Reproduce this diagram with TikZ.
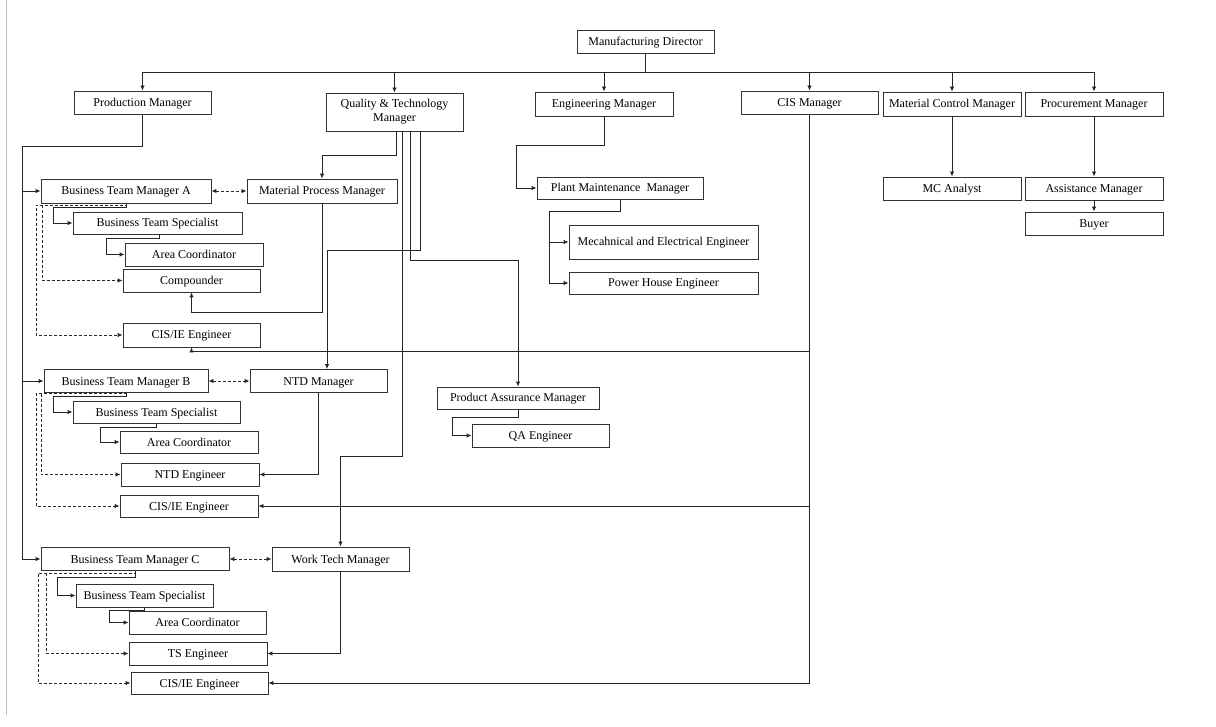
\documentclass[tikz,border=0pt]{standalone}
\usepackage{fontspec}
\setmainfont{Liberation Serif}
\usetikzlibrary{arrows.meta}
\begin{document}
\begin{tikzpicture}[x=1pt,y=-1pt,
  box/.style={draw=black!80, line width=0.9pt, inner sep=0pt, align=center,
    font=\fontsize{12}{14}\selectfont, fill=white, text height=10pt, text depth=2pt},
  box2/.style={draw=black!80, line width=0.9pt, inner sep=0pt, align=center,
    font=\fontsize{12}{14}\selectfont, fill=white},
  con/.style={draw=black!85, line width=0.9pt},
  arr/.style={con, -{Latex[length=5pt,width=4.5pt]}},
  dasharr/.style={con, dash pattern=on 3pt off 2pt, -{Latex[length=5pt,width=4.5pt]}},
  dbl/.style={con, dash pattern=on 3pt off 2pt, {Latex[length=5pt,width=4.5pt]}-{Latex[length=5pt,width=4.5pt]}}]
\useasboundingbox (0,0) rectangle (1216,727);
\draw[black!25, line width=1pt] (6,0) -- (6,715);

% top level
\node[box, minimum width=137pt, minimum height=23pt] (md) at (645.5,41.5) {Manufacturing Director};
\node[box, minimum width=137pt, minimum height=23pt] (pm) at (142.5,102.5) {Production Manager};
\node[box2, minimum width=137pt, minimum height=38pt] (qt) at (394.5,112) {Quality \& Technology\\Manager};
\node[box, minimum width=138pt, minimum height=24pt] (em) at (604,104) {Engineering Manager};
\node[box, minimum width=137pt, minimum height=23pt] (cis) at (809.5,102.5) {CIS Manager};
\node[box, minimum width=138pt, minimum height=24pt] (mcm) at (952,104) {Material Control Manager};
\node[box, minimum width=138pt, minimum height=24pt] (proc) at (1094,104) {Procurement Manager};
\node[box, minimum width=138pt, minimum height=23pt] (mca) at (952,188.5) {MC Analyst};
\node[box, minimum width=138pt, minimum height=23pt] (asm) at (1094,188.5) {Assistance Manager};
\node[box, minimum width=138pt, minimum height=23pt] (buyer) at (1094,223.5) {Buyer};

% team A
\node[box, minimum width=170pt, minimum height=24pt] (btmA) at (126,191) {Business Team Manager A};
\node[box, minimum width=150pt, minimum height=24pt] (mpm) at (322,191) {Material Process Manager};
\node[box, minimum width=169pt, minimum height=22pt] (btsA) at (157.5,223) {Business Team Specialist};
\node[box, minimum width=138pt, minimum height=23pt] (acA) at (194,254.5) {Area Coordinator};
\node[box, minimum width=137pt, minimum height=23pt] (comp) at (191.5,280.5) {Compounder};
\node[box, minimum width=137pt, minimum height=24pt] (cisA) at (191.5,335) {CIS/IE Engineer};

% team B
\node[box, minimum width=164pt, minimum height=23pt] (btmB) at (126,381) {Business Team Manager B};
\node[box, minimum width=137pt, minimum height=23pt] (ntdm) at (318.5,381) {NTD Manager};
\node[box, minimum width=167pt, minimum height=22pt] (btsB) at (156.5,412) {Business Team Specialist};
\node[box, minimum width=138pt, minimum height=22pt] (acB) at (189,442) {Area Coordinator};
\node[box, minimum width=138pt, minimum height=23pt] (ntde) at (190,474.5) {NTD Engineer};
\node[box, minimum width=138pt, minimum height=22pt] (cisB) at (189,506) {CIS/IE Engineer};

% team C
\node[box, minimum width=188pt, minimum height=23pt] (btmC) at (135,559) {Business Team Manager C};
\node[box, minimum width=137pt, minimum height=24pt] (wtm) at (340.5,559) {Work Tech Manager};
\node[box, minimum width=137pt, minimum height=23pt] (btsC) at (144.5,595.5) {Business Team Specialist};
\node[box, minimum width=137pt, minimum height=23pt] (acC) at (197.5,622.5) {Area Coordinator};
\node[box, minimum width=138pt, minimum height=23pt] (tse) at (198,653.5) {TS Engineer};
\node[box, minimum width=137pt, minimum height=22pt] (cisC) at (199.5,683) {CIS/IE Engineer};

% engineering / QA
\node[box, minimum width=166pt, minimum height=22pt] (pmm) at (620,188) {Plant Maintenance\ \ Manager};
\node[box, minimum width=189pt, minimum height=34pt] (mee) at (663.5,242) {Mecahnical and Electrical Engineer};
\node[box, minimum width=189pt, minimum height=22pt] (phe) at (663.5,283) {Power House Engineer};
\node[box, minimum width=162pt, minimum height=22pt] (pam) at (518,398) {Product Assurance Manager};
\node[box, minimum width=137pt, minimum height=23pt] (qae) at (540.5,435.5) {QA Engineer};

% waypoints
\coordinate (bus) at (645.5,72);
\coordinate (trunk) at (22,146);
\coordinate (a1) at (53,207);
\coordinate (a2) at (106,238);
\coordinate (a3) at (36,205);
\coordinate (a4) at (42,205);
\coordinate (b1) at (53,396);
\coordinate (b2) at (100,427);
\coordinate (b3) at (36,393.5);
\coordinate (b4) at (41,393.5);
\coordinate (c1) at (57,577);
\coordinate (c2) at (109,610);
\coordinate (c3) at (38,573);
\coordinate (c4) at (46,573);
\coordinate (e1) at (516,145);
\coordinate (p1) at (549,211);
\coordinate (q1) at (452,417);

% top bus
\draw[con] (md.south) -- (bus);
\draw[con] (bus -| pm) -- (bus -| proc);
\foreach \n in {pm,qt,em,cis,mcm,proc} \draw[arr] (bus -| \n) -- (\n.north);
\draw[arr] (mcm.south) -- (mca.north);
\draw[arr] (proc.south) -- (asm.north);
\draw[arr] (asm.south) -- (buyer.north);

% production trunk
\draw[arr] (pm.south) |- (trunk) |- (btmC.west);
\draw[arr] (trunk |- btmA.west) -- (btmA.west);
\draw[arr] (trunk |- btmB.west) -- (btmB.west);

% dashed peer links
\draw[dbl] (btmA.east) -- (mpm.west);
\draw[dbl] (btmB.east) -- (ntdm.west);
\draw[dbl] (btmC.east) -- (wtm.west);

% team A internal
\draw[arr] (btmA.south) |- (a1) |- (btsA.west);
\draw[arr] ([xshift=1.5pt]btsA.south) |- (a2) |- (acA.west);
\draw[dasharr] (btmA.south) |- (a3) |- (cisA.west);
\draw[dasharr] (a4) |- (comp.west);
\draw[arr] (mpm.south) -- ++(0,109) -| (comp.south);

% team B internal
\draw[arr] (btmB.south) |- (b1) |- (btsB.west);
\draw[arr] (btsB.south) |- (b2) |- (acB.west);
\draw[dasharr] (btmB.south) |- (b3) |- (cisB.west);
\draw[dasharr] (b4) |- (ntde.west);
\draw[arr] (ntdm.south) |- (ntde.east);

% team C internal
\draw[arr] (btmC.south) |- (c1) |- (btsC.west);
\draw[arr] (btsC.south) |- (c2) |- (acC.west);
\draw[dasharr] (btmC.south) |- (c3) |- (cisC.west);
\draw[dasharr] (c4) |- (tse.west);
\draw[arr] (wtm.south) |- (tse.east);

% CIS manager
\draw[con] (cis.south) -- (cis.south |- cisC.east);
\draw[arr] (cis.south |- cisC.east) -- (cisC.east);
\draw[arr] (cis.south |- cisB.east) -- (cisB.east);
\draw[arr] (cis.south) ++(0,237) -| (cisA.south);

% quality & technology
\draw[arr] ([xshift=1.5pt]qt.south) -- ++(0,24) -| (mpm.north);
\draw[arr] ([xshift=25.5pt]qt.south) -- ++(0,119) -| ([xshift=8.5pt]ntdm.north);
\draw[arr] ([xshift=15.5pt]qt.south) -- ++(0,129) -| (pam.north);
\draw[arr] ([xshift=7.5pt]qt.south) -- ++(0,325) -| (wtm.north);
\draw[arr] (pam.south) |- (q1) |- (qae.west);

% engineering
\draw[arr] (em.south) |- (e1) |- (pmm.west);
\draw[arr] (pmm.south) |- (p1) |- (phe.west);
\draw[arr] (p1 |- mee.west) -- (mee.west);
\end{tikzpicture}
\end{document}
